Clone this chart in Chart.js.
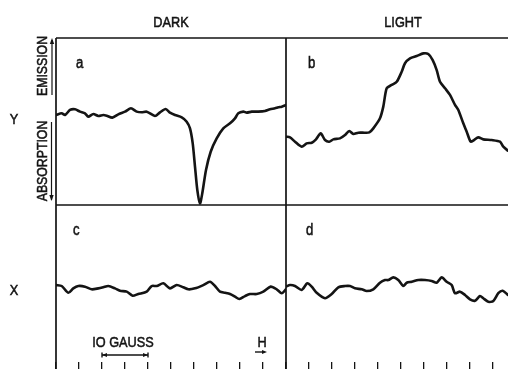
<!DOCTYPE html>
<html>
<head>
<meta charset="utf-8">
<script src="https://cdn.jsdelivr.net/npm/chart.js@4/dist/chart.umd.min.js"></script>
<style>
html,body{margin:0;padding:0;background:#fff;}
#wrap{width:508px;height:369px;position:relative;}
</style>
</head>
<body>
<div id="wrap"><canvas id="c" width="508" height="369"></canvas></div>
<script>
// Field sweep in gauss (each panel spans 50 G; tick every 5 G)
const panelTitles = ['DARK', 'LIGHT'];
const rowTitles = ['Y', 'X'];
const panelLetters = ['a', 'b', 'c', 'd'];

// (a) Y signal, dark
const aField = [0,1.24,1.96,3.04,4.13,5.22,6.30,7.02,8.11,9.20,10.28,11.02,12.24,13.54,15.0,16.30,17.54,18.63,19.72,21.52,22.61,23.85,24.78,25.87,27.33,28.41,29.13,29.72,30.22,30.72,31.30,31.80,32.61,33.63,34.93,36.37,37.83,38.91,39.63,40.72,41.46,42.54,43.98,45.43,46.52,47.61,48.33,49.07,50];
const aSignal = [53.9,54.9,53.9,56.9,57.3,55.9,54.9,52.9,54.5,53.3,53.9,53.5,52.3,54.3,55.9,57.9,55.9,55.5,55.9,53.3,55.5,57.5,55.3,53.9,52.5,49.9,45.9,36.9,22.9,9.0,1.0,7.0,21.0,31.9,39.9,45.9,48.9,51.9,54.9,55.9,55.3,55.9,55.9,56.3,57.3,57.9,58.5,58.9,59.9];

// (b) Y signal, light
const bField = [0,0.87,1.96,3.41,4.50,5.59,6.52,7.54,8.48,9.41,10.28,11.74,12.83,13.76,14.63,15.72,17.17,18.11,18.98,20.43,21.15,21.89,22.98,24.07,25.15,25.87,26.96,28.41,29.85,30.93,31.89,32.76,33.48,34.57,35.65,36.74,37.46,38.54,39.28,40.15,40.87,41.80,42.89,44.72,46.52,47.24,48.26];
const bSignal = [40.9,40.5,37.9,34.9,36.9,37.3,39.3,42.9,38.9,37.9,39.3,39.9,41.9,44.3,42.5,43.3,43.3,43.5,45.9,51.9,58.9,69.9,71.9,73.8,79.8,84.9,87.8,89.2,90.8,90.4,86.8,80.8,73.8,69.9,65.9,59.9,56.9,48.9,43.9,37.9,38.9,40.5,39.3,38.9,37.9,34.9,32.5];

// (c) X signal, dark
const cField = [0,1.24,2.67,3.76,4.85,6.30,7.76,9.20,10.28,11.37,12.83,13.91,15.37,16.67,17.89,19.72,20.80,21.89,23.33,24.78,26.24,27.67,28.76,30.22,32.02,33.48,34.57,35.65,36.74,37.83,38.91,39.85,41.09,42.17,43.63,45.07,46.67,47.98,49.07,50];
const cSignal = [49.0,48.4,44.1,46.9,48.4,48.0,46.3,46.9,47.6,48.4,46.9,45.4,44.8,42.2,43.3,44.8,48.4,48.4,50.1,46.9,49.0,47.6,46.3,46.9,49.0,51.1,48.4,44.8,44.1,43.3,41.6,40.1,42.0,43.3,43.3,44.8,48.0,46.3,43.8,46.3];

// (d) X signal, light
const dField = [0,0.87,1.96,3.41,4.63,5.59,6.67,8.48,9.93,11.37,12.83,13.91,15.0,16.46,17.54,18.98,20.43,21.52,22.24,23.33,24.41,25.50,26.24,27.33,28.76,30.22,31.67,32.76,33.85,34.93,36.02,36.74,37.83,38.91,40.0,41.09,42.17,42.89,43.98,45.07,46.15,47.11,48.26];
const dSignal = [48.0,49.0,48.4,45.9,50.1,48.0,44.1,40.6,43.3,47.6,48.4,48.4,46.9,46.3,45.2,46.3,50.5,52.2,52.2,53.9,52.2,48.4,50.5,51.1,52.2,52.2,51.6,50.5,53.9,51.1,49.0,43.8,44.8,42.7,39.9,39.0,42.0,40.6,38.4,38.9,43.8,45.4,42.7];

const pts = (xs, ys) => xs.map((x, i) => ({x: x, y: ys[i]}));
const INK = '#141414';
const FONT = '"Liberation Sans", Arial, sans-serif';

function ds(label, xs, ys, xId, yId) {
  return {label, data: pts(xs, ys), xAxisID: xId, yAxisID: yId,
    borderColor: INK, borderWidth: 2.6, pointRadius: 0, tension: 0.25,
    fill: false, borderCapStyle: 'round', borderJoinStyle: 'round'};
}

function txt(ctx, s, x, y, size, align, rot) {
  ctx.save();
  ctx.translate(x, y);
  if (rot) ctx.rotate(rot);
  ctx.scale(0.82, 1);
  ctx.font = size + 'px ' + FONT;
  ctx.fillStyle = INK;
  ctx.strokeStyle = INK;
  ctx.lineWidth = 0.55;
  ctx.textAlign = align || 'center';
  ctx.textBaseline = 'alphabetic';
  ctx.fillText(s, 0, 0);
  ctx.strokeText(s, 0, 0);
  ctx.restore();
}

function arrowHead(ctx, x, y, dir, len, half) {
  ctx.beginPath();
  if (dir === 'up') { ctx.moveTo(x, y); ctx.lineTo(x - half, y + len); ctx.lineTo(x + half, y + len); }
  if (dir === 'down') { ctx.moveTo(x, y); ctx.lineTo(x - half, y - len); ctx.lineTo(x + half, y - len); }
  if (dir === 'left') { ctx.moveTo(x, y); ctx.lineTo(x + len, y - half); ctx.lineTo(x + len, y + half); }
  if (dir === 'right') { ctx.moveTo(x, y); ctx.lineTo(x - len, y - half); ctx.lineTo(x - len, y + half); }
  ctx.closePath();
  ctx.fill();
}

const framePlugin = {
  id: 'frame',
  beforeDatasetsDraw(chart) {
    const ctx = chart.ctx;
    const xL = chart.scales.xL, xR = chart.scales.xR, yT = chart.scales.yT;
    ctx.save();
    ctx.strokeStyle = INK;
    ctx.lineWidth = 1.7;
    ctx.beginPath();
    ctx.moveTo(xL.left, yT.top); ctx.lineTo(xL.left, chart.height);
    ctx.moveTo(xL.right, yT.top); ctx.lineTo(xL.right, chart.height);
    ctx.moveTo(xL.left, yT.top); ctx.lineTo(xR.right, yT.top);
    ctx.moveTo(xL.left, yT.bottom); ctx.lineTo(xR.right, yT.bottom);
    ctx.stroke();
    ctx.restore();
  },
  afterDraw(chart) {
    const ctx = chart.ctx;
    const xL = chart.scales.xL, xR = chart.scales.xR, yT = chart.scales.yT;
    ctx.save();
    txt(ctx, panelTitles[0], (xL.left + xL.right) / 2, 27, 15.5);
    txt(ctx, panelTitles[1], xR.left + 117, 27, 15.5);
    txt(ctx, rowTitles[0], 14, 124, 15.5);
    txt(ctx, rowTitles[1], 14, 295, 15.5);
    txt(ctx, panelLetters[0], xL.left + 20, 68, 16, 'left');
    txt(ctx, panelLetters[1], xR.left + 22, 68, 16, 'left');
    txt(ctx, panelLetters[2], xL.left + 17, 235, 16, 'left');
    txt(ctx, panelLetters[3], xR.left + 20, 235, 16, 'left');
    txt(ctx, 'EMISSION', 47, 66, 15, 'center', -Math.PI / 2);
    txt(ctx, 'ABSORPTION', 47, 161, 15, 'center', -Math.PI / 2);
    ctx.strokeStyle = INK; ctx.fillStyle = INK; ctx.lineWidth = 1.2;
    ctx.beginPath();
    ctx.moveTo(52, yT.top + 2); ctx.lineTo(52, 95);
    ctx.moveTo(51.5, 122); ctx.lineTo(51.5, yT.bottom - 5);
    ctx.stroke();
    arrowHead(ctx, 52, yT.top, 'up', 6, 2.2);
    arrowHead(ctx, 51.5, yT.bottom - 4, 'down', 6, 2.2);
    const g0 = xL.getPixelForValue(10), g1 = xL.getPixelForValue(20);
    txt(ctx, 'IO GAUSS', (g0 + g1) / 2 - 2, 347, 15.5);
    ctx.lineWidth = 1.4;
    ctx.beginPath();
    ctx.moveTo(g0, 355); ctx.lineTo(g1, 355);
    ctx.moveTo(g0, 352.5); ctx.lineTo(g0, 357.5);
    ctx.moveTo(g1, 352.5); ctx.lineTo(g1, 357.5);
    ctx.stroke();
    arrowHead(ctx, g0, 355, 'left', 5, 2);
    arrowHead(ctx, g1, 355, 'right', 5, 2);
    txt(ctx, 'H', 262, 347, 15.5);
    ctx.beginPath();
    ctx.moveTo(255, 352); ctx.lineTo(264, 352);
    ctx.stroke();
    arrowHead(ctx, 267, 352, 'right', 5, 2);
    ctx.restore();
  }
};

const tickGrid = {drawOnChartArea: false, drawTicks: true, tickLength: 7, color: INK, lineWidth: 1.3};

new Chart(document.getElementById('c'), {
  type: 'line',
  data: {
    datasets: [
      ds('a', aField, aSignal, 'xL', 'yT'),
      ds('b', bField, bSignal, 'xR', 'yT'),
      ds('c', cField, cSignal, 'xL', 'yB'),
      ds('d', dField, dSignal, 'xR', 'yB')
    ]
  },
  options: {
    responsive: false,
    animation: false,
    devicePixelRatio: 1,
    layout: {padding: {left: 56, top: 38, right: 0, bottom: 0}},
    plugins: {legend: {display: false}, tooltip: {enabled: false}},
    scales: {
      xL: {type: 'linear', position: 'bottom', stack: 'x', stackWeight: 230, min: 0, max: 50,
        ticks: {display: false, stepSize: 5, includeBounds: false}, grid: tickGrid, border: {display: false}},
      xR: {type: 'linear', position: 'bottom', stack: 'x', stackWeight: 222, min: 0, max: 48.26,
        ticks: {display: false, stepSize: 5, includeBounds: false}, grid: tickGrid, border: {display: false}},
      yB: {type: 'linear', position: 'left', stack: 'y', stackWeight: 157, min: 0, max: 100, display: false},
      yT: {type: 'linear', position: 'left', stack: 'y', stackWeight: 167, min: 0, max: 100, display: false}
    }
  },
  plugins: [framePlugin]
});
</script>
</body>
</html>
